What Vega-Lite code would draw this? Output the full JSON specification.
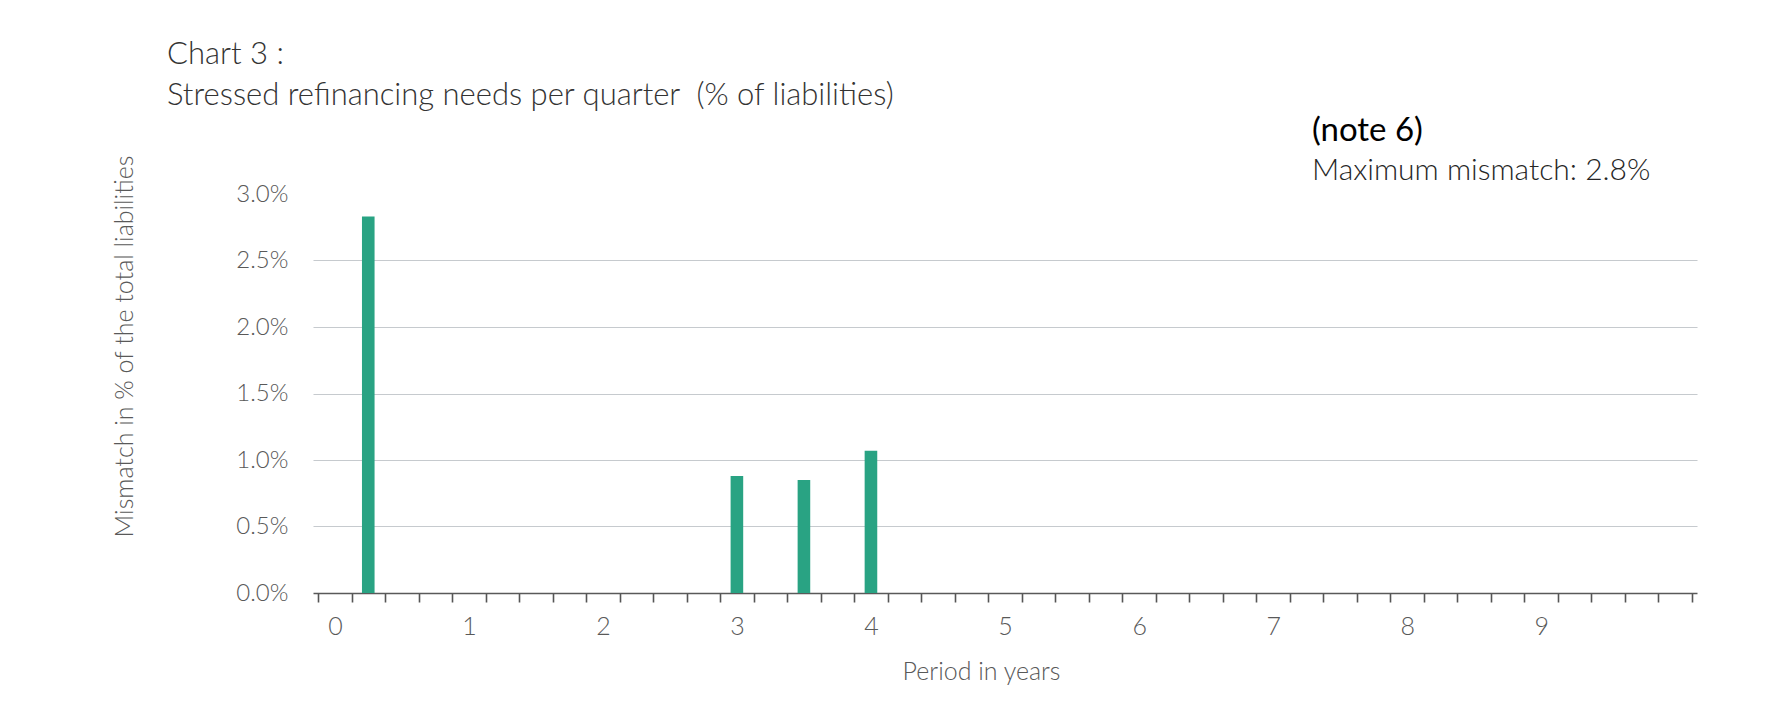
{
  "$schema": "https://vega.github.io/schema/vega-lite/v6.json",
  "autosize": "none",
  "width": 1384,
  "height": 399,
  "padding": {"left": 313, "top": 194, "right": 71, "bottom": 112},
  "background": "white",
  "title": {
    "text": ["Chart 3 :", "Stressed refinancing needs per quarter \u00a0(% of liabilities)"],
    "anchor": "start",
    "frame": "group",
    "dx": -146,
    "offset": 2.5,
    "font": "Lato",
    "fontWeight": 300,
    "fontSize": 31,
    "lineHeight": 41,
    "color": "#333333"
  },
  "datasets": {
    "quarters": [
      {"year": 0, "mismatch": 0},
      {"year": 0.25, "mismatch": 0.0283},
      {"year": 0.5, "mismatch": 0},
      {"year": 0.75, "mismatch": 0},
      {"year": 1, "mismatch": 0},
      {"year": 1.25, "mismatch": 0},
      {"year": 1.5, "mismatch": 0},
      {"year": 1.75, "mismatch": 0},
      {"year": 2, "mismatch": 0},
      {"year": 2.25, "mismatch": 0},
      {"year": 2.5, "mismatch": 0},
      {"year": 2.75, "mismatch": 0},
      {"year": 3, "mismatch": 0.0088},
      {"year": 3.25, "mismatch": 0},
      {"year": 3.5, "mismatch": 0.0085},
      {"year": 3.75, "mismatch": 0},
      {"year": 4, "mismatch": 0.0107},
      {"year": 4.25, "mismatch": 0},
      {"year": 4.5, "mismatch": 0},
      {"year": 4.75, "mismatch": 0},
      {"year": 5, "mismatch": 0},
      {"year": 5.25, "mismatch": 0},
      {"year": 5.5, "mismatch": 0},
      {"year": 5.75, "mismatch": 0},
      {"year": 6, "mismatch": 0},
      {"year": 6.25, "mismatch": 0},
      {"year": 6.5, "mismatch": 0},
      {"year": 6.75, "mismatch": 0},
      {"year": 7, "mismatch": 0},
      {"year": 7.25, "mismatch": 0},
      {"year": 7.5, "mismatch": 0},
      {"year": 7.75, "mismatch": 0},
      {"year": 8, "mismatch": 0},
      {"year": 8.25, "mismatch": 0},
      {"year": 8.5, "mismatch": 0},
      {"year": 8.75, "mismatch": 0},
      {"year": 9, "mismatch": 0},
      {"year": 9.25, "mismatch": 0},
      {"year": 9.5, "mismatch": 0},
      {"year": 9.75, "mismatch": 0},
      {"year": 10, "mismatch": 0}
    ]
  },
  "data": {"name": "quarters"},
  "layer": [
    {
      "mark": {"type": "bar", "orient": "vertical", "width": 12.6, "color": "#29A383"},
      "encoding": {
        "x": {
          "field": "year",
          "type": "quantitative",
          "scale": {"domain": [-0.125, 10.125], "nice": false, "zero": false},
          "axis": {
            "title": "Period in years",
            "values": [-0.125, 0.125, 0.375, 0.625, 0.875, 1.125, 1.375, 1.625, 1.875, 2.125, 2.375, 2.625, 2.875, 3.125, 3.375, 3.625, 3.875, 4.125, 4.375, 4.625, 4.875, 5.125, 5.375, 5.625, 5.875, 6.125, 6.375, 6.625, 6.875, 7.125, 7.375, 7.625, 7.875, 8.125, 8.375, 8.625, 8.875, 9.125, 9.375, 9.625, 9.875, 10.125],
            "tickCount": 60,
            "labelExpr": "(datum.value + 0.125) % 1 === 0 && datum.value < 9.8 ? format(datum.value + 0.125, 'd') : ''",
            "labelOffset": 16.88,
            "labelOverlap": false,
            "labelFlush": false,
            "labelFont": "Lato",
            "labelFontWeight": 300,
            "labelFontSize": 25,
            "labelColor": "#595959",
            "labelPadding": 12,
            "tickSize": 9,
            "tickColor": "#555555",
            "tickWidth": 1.6,
            "tickRound": true,
            "domainColor": "#595959",
            "domainWidth": 1.6,
            "grid": false,
            "titleFont": "Lato",
            "titleFontWeight": 300,
            "titleFontSize": 25,
            "titleColor": "#595959",
            "titleX": 668,
            "titleAlign": "center",
            "titlePadding": 20
          }
        },
        "y": {
          "field": "mismatch",
          "type": "quantitative",
          "scale": {"domain": [0, 0.03], "nice": false},
          "axis": {
            "title": "Mismatch in % of the total liabilities",
            "values": [0, 0.005, 0.01, 0.015, 0.02, 0.025, 0.03],
            "format": ".1%",
            "domain": false,
            "ticks": false,
            "labelFont": "Lato",
            "labelFontWeight": 300,
            "labelFontSize": 24,
            "labelColor": "#595959",
            "labelPadding": 25,
            "gridColor": "#C6CACE",
            "gridWidth": 1.2,
            "gridOpacity": {"condition": {"test": "datum.value >= 0.03 || datum.value <= 0", "value": 0}, "value": 1},
            "titleFont": "Lato",
            "titleFontWeight": 300,
            "titleFontSize": 25,
            "titleColor": "#595959",
            "titleX": -189,
            "titleY": 152,
            "titleAlign": "center",
            "titleBaseline": "middle"
          }
        }
      }
    },
    {
      "mark": {"type": "text", "align": "left", "baseline": "middle", "font": "Lato", "fontWeight": 400, "fontSize": 33, "color": "#000000"},
      "data": {"values": [{"note": "(note 6)"}]},
      "encoding": {
        "x": {"datum": 7.29},
        "y": {"datum": 0.03474},
        "text": {"field": "note"}
      }
    },
    {
      "mark": {"type": "text", "align": "left", "baseline": "middle", "font": "Lato", "fontWeight": 300, "fontSize": 30, "color": "#262626"},
      "transform": [
        {"aggregate": [{"op": "max", "field": "mismatch", "as": "maxMismatch"}]},
        {"calculate": "'Maximum mismatch: ' + format(datum.maxMismatch, '.1%')", "as": "label"}
      ],
      "encoding": {
        "x": {"datum": 7.29},
        "y": {"datum": 0.03173},
        "text": {"field": "label"}
      }
    }
  ],
  "config": {
    "view": {"stroke": null}
  }
}
